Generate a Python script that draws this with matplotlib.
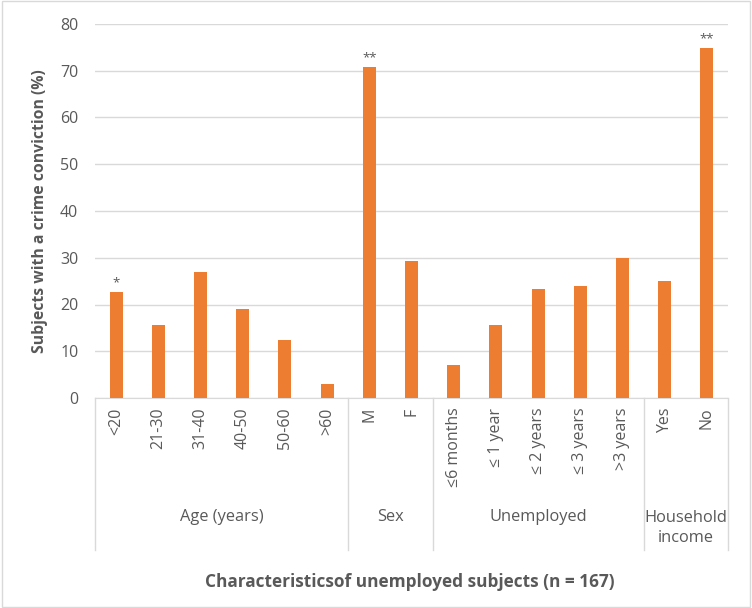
import matplotlib.pyplot as plt
import matplotlib.transforms as mtrans
import numpy as np

plt.rcParams['font.family'] = ['Open Sans', 'DejaVu Sans']

categories = ['<20', '21-30', '31-40', '40-50', '50-60', '>60',
              'M', 'F',
              '≤6 months', '≤ 1 year', '≤ 2 years', '≤ 3 years', '>3 years',
              'Yes', 'No']
values = [22.7, 15.6, 27.0, 19.0, 12.4, 3.0,
          70.8, 29.3,
          7.1, 15.6, 23.3, 24.0, 29.9,
          25.0, 74.9]
stars = {0: '*', 6: '**', 14: '**'}

groups = ['Age (years)', 'Sex', 'Unemployed', 'Household\nincome']
group_sizes = [6, 2, 5, 2]

orange = '#ED7D31'
grey_text = '#595959'
grid_col = '#D9D9D9'

fig = plt.figure(figsize=(7.52, 6.08), dpi=100)
ax = fig.add_axes([95 / 752, 1 - 398 / 608, 633 / 752, 374 / 608])

x = np.arange(len(categories))
ax.bar(x, values, width=0.31, color=orange, zorder=3)
for i, s in stars.items():
    ax.text(i, values[i] + 0.6, s, ha='center', va='bottom', fontsize=9.5, color=grey_text)

ax.set_xlim(-0.5, len(categories) - 0.5)
ax.set_ylim(0, 80)
ax.set_yticks(range(0, 81, 10))
ax.yaxis.grid(True, color=grid_col, linewidth=1, zorder=0)
ax.tick_params(axis='y', length=0, labelsize=11.5, colors=grey_text, pad=12)
ax.set_xticks(x)
ax.set_xticklabels(categories, rotation=90, va='top')
ax.tick_params(axis='x', length=0, labelsize=11.5, colors=grey_text, pad=7)
for sp in ['top', 'right', 'left']:
    ax.spines[sp].set_visible(False)
ax.spines['bottom'].set_color(grid_col)

ax.set_ylabel('Subjects with a crime conviction (%)', fontsize=11.3, fontweight='bold',
              color=grey_text, labelpad=9)

# group brackets under the axis
trans = mtrans.blended_transform_factory(ax.transData, ax.transAxes)
y_low = (398 - 550) / 374
edges = np.concatenate([[0], np.cumsum(group_sizes)]) - 0.5
for e in edges:
    ax.plot([e, e], [0, y_low], transform=trans, color=grid_col, lw=1, clip_on=False)
for g, a, b in zip(groups, edges[:-1], edges[1:]):
    yy = (398 - 517) / 374 if '\n' not in g else (398 - 528) / 374
    ax.text((a + b) / 2, yy, g, transform=trans, ha='center', va='center',
            fontsize=11.8, color=grey_text, linespacing=1.35)

fig.text(410 / 752, 1 - 582 / 608, 'Characteristicsof unemployed subjects (n = 167)',
         ha='center', va='center', fontsize=12.4, fontweight='bold', color=grey_text)

fig.patches.append(plt.Rectangle((0.002, 0.002), 0.996, 0.996, transform=fig.transFigure,
                                 fill=False, edgecolor=grid_col, lw=1))

fig.savefig('out.png', dpi=100)
